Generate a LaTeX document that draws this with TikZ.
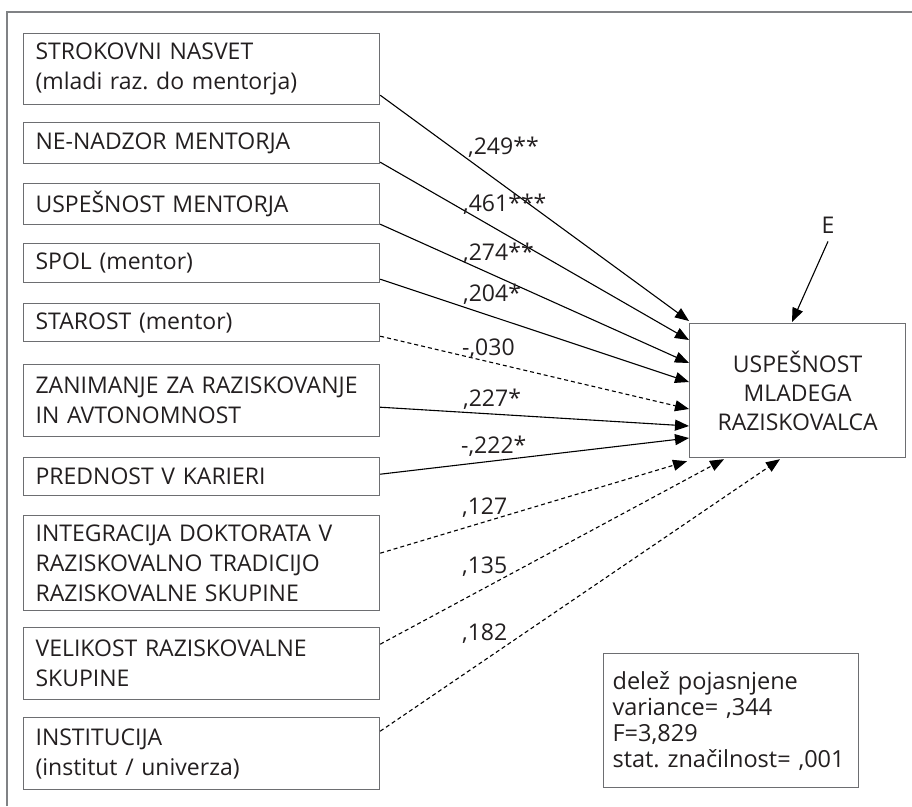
\documentclass[tikz,border=0pt]{standalone}
\usepackage{fontspec}
\setmainfont{Open Sans}
\usetikzlibrary{arrows.meta}
\definecolor{bordergray}{HTML}{6D6E71}
\definecolor{framegray}{HTML}{808285}
\definecolor{txt}{HTML}{231F20}
\frenchspacing
\begin{document}
\begin{tikzpicture}[x=1pt,y=-1pt,
  lbox/.style={draw=bordergray, line width=1.2pt, anchor=north west,
    minimum width=356pt, text width=332pt, inner xsep=12pt, inner ysep=0pt,
    align=left, text=txt, font=\fontsize{23}{30}\selectfont},
  tbox/.style={draw=bordergray, line width=1.2pt, anchor=north west,
    minimum width=216pt, minimum height=134pt, align=center, text=txt,
    font=\fontsize{23}{29}\selectfont},
  sbox/.style={draw=bordergray, line width=1.2pt, anchor=north west,
    minimum width=255pt, minimum height=134pt, text width=237pt, inner xsep=9pt, align=left,
    text=txt, font=\fontsize{23.5}{26}\selectfont},
  coef/.style={anchor=base west, inner sep=0pt, text=txt, font=\fontsize{23}{26}\selectfont},
  solidarr/.style={line width=1.1pt, -{Triangle[length=14pt,width=11pt]}},
  dasharr/.style={line width=1.1pt, dash pattern=on 4pt off 3pt, -{Triangle[length=14pt,width=11pt]}},
]
\useasboundingbox (0,0) rectangle (912,806);
\fill[white] (0,0) rectangle (912,806);
\draw[framegray, line width=2pt] (7,806) -- (7,12) -- (912,12);

\node[lbox, minimum height=71pt] (b1) at (23,33) {STROKOVNI NASVET\\(mladi raz. do mentorja)};
\node[lbox, minimum height=41pt] (b2) at (23,122) {NE-NADZOR MENTORJA};
\node[lbox, minimum height=41pt] (b3) at (23,183) {USPEŠNOST MENTORJA};
\node[lbox, minimum height=39pt] (b4) at (23,243) {SPOL (mentor)};
\node[lbox, minimum height=38pt] (b5) at (23,303) {STAROST (mentor)};
\node[lbox, minimum height=72pt] (b6) at (23,364) {ZANIMANJE ZA RAZISKOVANJE\\IN AVTONOMNOST};
\node[lbox, minimum height=38pt] (b7) at (23,457) {PREDNOST V KARIERI};
\node[lbox, minimum height=95pt] (b8) at (23,515) {INTEGRACIJA DOKTORATA V\\RAZISKOVALNO TRADICIJO\\RAZISKOVALNE SKUPINE};
\node[lbox, minimum height=72pt] (b9) at (23,627) {VELIKOST RAZISKOVALNE\\SKUPINE};
\node[lbox, minimum height=72pt] (b10) at (23,717) {INSTITUCIJA\\(institut / univerza)};

\node[tbox] (T) at (689,323) {USPEŠNOST\\MLADEGA\\RAZISKOVALCA};
\node[sbox] (S) at (603,653) {delež pojasnjene\\variance= ,344\\F=3,829\\stat. značilnost= ,001};

\node[inner sep=0pt, text=txt, font=\fontsize{23}{26}\selectfont] (E) at (828,225) {E};
\draw[solidarr] ([yshift=-8pt]E.south) -- ([xshift=103pt,yshift=1pt]T.north west);

\draw[solidarr] ([yshift=10pt]b1.south east) -- ([yshift=2pt]T.north west);
\draw[solidarr] ([yshift=2pt]b2.south east) -- ([yshift=-17pt]T.north west);
\draw[solidarr] ([yshift=1pt]b3.south east) -- ([yshift=-40pt]T.north west);
\draw[solidarr] ([yshift=4pt]b4.south east) -- ([yshift=-59pt]T.north west);
\draw[dasharr] ([yshift=6pt]b5.south east) -- ([yshift=-86pt]T.north west);
\draw[solidarr] ([yshift=30pt]b6.south east) -- ([yshift=-103pt]T.north west);
\draw[solidarr] ([yshift=22pt]b7.south east) -- ([yshift=-115pt]T.north west);
\draw[dasharr] ([yshift=58pt]b8.south east) -- ([xshift=-2pt,yshift=-3pt]T.south west);
\draw[dasharr] ([yshift=56pt]b9.south east) -- ([xshift=35pt,yshift=-1pt]T.south west);
\draw[dasharr] ([yshift=59pt]b10.south east) -- ([xshift=91pt,yshift=-1pt]T.south west);

\node[coef] (c1) at (468,154) {,249**};
\node[coef] (c2) at (463,211) {,461***};
\node[coef] (c3) at (463,260) {,274**};
\node[coef] (c4) at (463,301) {,204*};
\node[coef] (c5) at (462,355) {-,030};
\node[coef] (c6) at (463,406) {,227*};
\node[coef] (c7) at (461,453) {-,222*};
\node[coef] (c8) at (462,514) {,127};
\node[coef] (c9) at (462,573) {,135};
\node[coef] (c10) at (462,640) {,182};
\end{tikzpicture}
\end{document}
